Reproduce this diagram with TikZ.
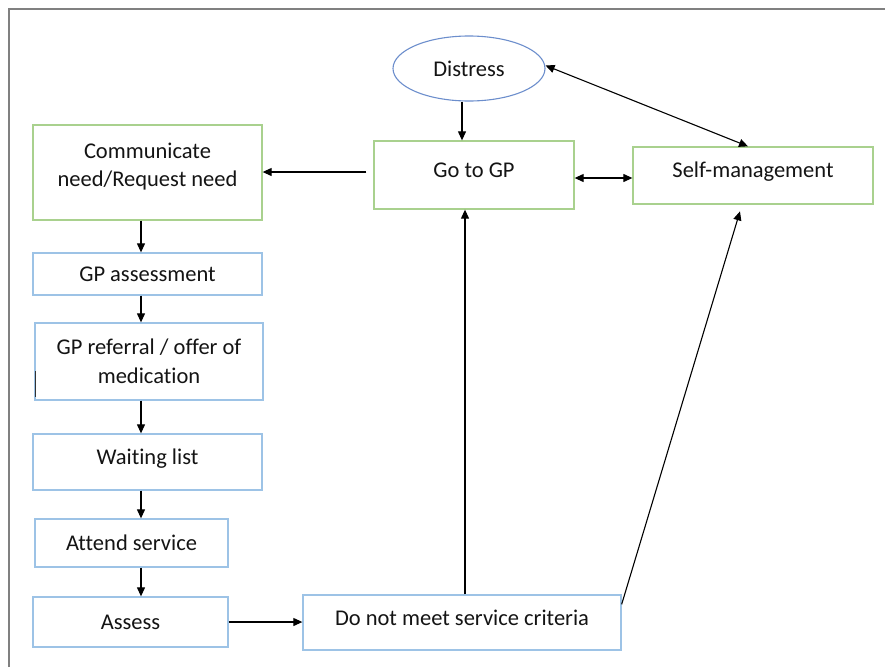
\documentclass[tikz,border=0pt]{standalone}
\usepackage{fontspec}
\setmainfont{Carlito}[Ligatures=NoCommon]
\usetikzlibrary{arrows.meta,shapes.geometric}
\definecolor{boxgreen}{RGB}{169,209,142}
\definecolor{boxblue}{RGB}{157,195,230}
\definecolor{ovalblue}{RGB}{108,142,204}
\definecolor{framegray}{RGB}{128,128,128}
\tikzset{
  every node/.style={font=\fontsize{22.5}{28.5}\selectfont, text=black!92, align=center, inner sep=0pt},
  greenbox/.style={draw=boxgreen, line width=1.3pt, fill=white, rectangle},
  bluebox/.style={draw=boxblue, line width=1.3pt, fill=white, rectangle},
  oval/.style={draw=ovalblue, line width=1.1pt, ellipse},
  arr/.style={line width=1.1pt, -{Triangle[length=9pt,width=8pt]}},
  darr/.style={line width=1.1pt, {Triangle[length=9pt,width=8pt]}-{Triangle[length=9pt,width=8pt]}},
  frameline/.style={draw=framegray, line width=2.2pt}
}
\begin{document}
\begin{tikzpicture}[x=1pt,y=-1pt]
  \useasboundingbox (0,0) rectangle (885,667);
  % outer frame (top and left edges only)
  \draw[frameline] (9,667) -- (9,9) -- (885,9);

  % top row
  \node[oval, minimum width=152, minimum height=65] (dis) at (469,68.5) {Distress};
  \node[greenbox, minimum width=200, minimum height=68, text depth=10] (gp) at (474,175) {Go to GP};
  \node[greenbox, minimum width=240, minimum height=57, text depth=12] (self) at (753,175.5) {Self-management};
  \node[greenbox, minimum width=229, minimum height=95, text depth=15] (comm) at (147.5,172.5) {Communicate\\need/Request need};

  % left column of steps
  \node[bluebox, minimum width=229, minimum height=42] (gpa) at (147.5,274) {GP assessment};
  \node[bluebox, minimum width=228, minimum height=77] (ref) at (149,361.5) {GP referral / offer of\\medication};
  \node[bluebox, minimum width=229, minimum height=56, text depth=10] (wait) at (147.5,462) {Waiting list};
  \node[bluebox, minimum width=193, minimum height=48] (att) at (131.5,543) {Attend service};
  \node[bluebox, minimum width=195, minimum height=50] (ass) at (130.5,622) {Assess};
  \node[bluebox, minimum width=318, minimum height=55, text depth=9] (dnm) at (462,622.5) {Do not meet service criteria};

  % small mark on the referral box edge
  \draw[black!80, line width=1pt] (35,371) -- (35,397);

  % guide coordinates for the vertical connectors
  \coordinate (colx) at (141,0);
  \coordinate (gpx) at (462,0);
  \coordinate (retx) at (465,0);

  % connectors
  \draw[arr] (dis.south -| gpx) -- (gp.north -| gpx);
  \draw[arr, shorten <=7pt] ([yshift=3]gp.west) -- ([yshift=3]gp.west -| comm.east);
  \draw[darr] ([yshift=-3]gp.east) -- ([yshift=-3]gp.east -| self.west);
  \draw[darr] ([yshift=3]dis.east) -- ([xshift=-5]self.north);

  \draw[arr] (comm.south -| colx) -- (gpa.north -| colx);
  \draw[arr] (gpa.south -| colx) -- (ref.north -| colx);
  \draw[arr] (ref.south -| colx) -- (wait.north -| colx);
  \draw[arr] (wait.south -| colx) -- (att.north -| colx);
  \draw[arr] (att.south -| colx) -- (ass.north -| colx);

  \draw[arr] (ass.east) -- (ass.east -| dnm.west);
  \draw[arr] (dnm.north -| retx) -- (gp.south -| retx);
  \draw[arr, shorten >=7pt] ([yshift=-10]dnm.north east) -- ([xshift=-11]self.south);
\end{tikzpicture}
\end{document}
